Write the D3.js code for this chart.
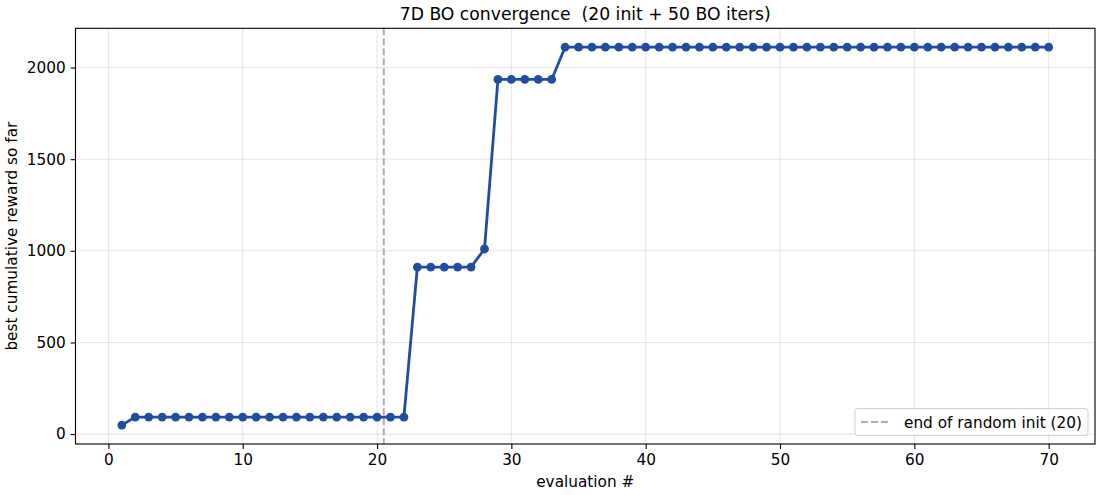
<!DOCTYPE html>
<html>
<head>
<meta charset="utf-8">
<script src="https://cdn.jsdelivr.net/npm/d3@7"></script>
<style>
  body { margin: 0; background: #fff; }
  svg { font-family: "DejaVu Sans", sans-serif; }
</style>
</head>
<body>
<div class="chart"></div>
<script>
// evaluation index and best reward found so far
const evals = [1,2,3,4,5,6,7,8,9,10,11,12,13,14,15,16,17,18,19,20,
  21,22,23,24,25,26,27,28,29,30,31,32,33,34,35,36,37,38,39,40,
  41,42,43,44,45,46,47,48,49,50,51,52,53,54,55,56,57,58,59,60,
  61,62,63,64,65,66,67,68,69,70]
const bestReward = [49,93,93,93,93,93,93,93,93,93,93,93,93,93,93,93,93,93,93,93,
  93,93,911,911,911,911,911,1010,1935,1935,1935,1935,1935,2111,2111,2111,2111,2111,2111,2111,
  2111,2111,2111,2111,2111,2111,2111,2111,2111,2111,2111,2111,2111,2111,2111,2111,2111,2111,2111,2111,
  2111,2111,2111,2111,2111,2111,2111,2111,2111,2111]
const xTicks = [0, 10, 20, 30, 40, 50, 60, 70]
const yTicks = [0, 500, 1000, 1500, 2000]
const initEnd = 20.5
const legendLabel = 'end of random init (20)'

const W = 1100, H = 495
const margin = { top: 28.3, right: 5, bottom: 51, left: 75.5 }
const width = W - margin.left - margin.right
const height = H - margin.top - margin.bottom
const blue = '#1f4e9f'
const fs = 15.3

const svg = d3.select('.chart').append('svg')
  .attr('width', W).attr('height', H)

const g = svg.append('g')
  .attr('transform', `translate(${margin.left},${margin.top})`)

// matplotlib style 5% margins
const xPad = (d3.max(evals) - d3.min(evals)) * 0.05
const yPad = (d3.max(bestReward) - d3.min(bestReward)) * 0.05
const x = d3.scaleLinear()
  .domain([d3.min(evals) - xPad, d3.max(evals) + xPad])
  .range([0, width])
const y = d3.scaleLinear()
  .domain([d3.min(bestReward) - yPad, d3.max(bestReward) + yPad])
  .range([height, 0])

// grid
g.append('g').selectAll('line').data(xTicks).enter().append('line')
  .attr('x1', d => x(d)).attr('x2', d => x(d))
  .attr('y1', 0).attr('y2', height)
  .attr('stroke', '#b0b0b0').attr('stroke-opacity', 0.3).attr('stroke-width', 1.1)
g.append('g').selectAll('line').data(yTicks).enter().append('line')
  .attr('y1', d => y(d)).attr('y2', d => y(d))
  .attr('x1', 0).attr('x2', width)
  .attr('stroke', '#b0b0b0').attr('stroke-opacity', 0.3).attr('stroke-width', 1.1)

// end of random init marker
g.append('line')
  .attr('x1', x(initEnd)).attr('x2', x(initEnd))
  .attr('y1', 0).attr('y2', height)
  .attr('stroke', '#a0a0a0').attr('stroke-opacity', 0.85)
  .attr('stroke-width', 2).attr('stroke-dasharray', '7,3')

const pts = evals.map((e, i) => ({ e: e, r: bestReward[i] }))

g.append('path')
  .datum(pts)
  .attr('fill', 'none')
  .attr('stroke', blue)
  .attr('stroke-width', 2.8)
  .attr('stroke-linejoin', 'round')
  .attr('d', d3.line().x(d => x(d.e)).y(d => y(d.r)))

g.append('g').selectAll('circle').data(pts).enter().append('circle')
  .attr('cx', d => x(d.e)).attr('cy', d => y(d.r))
  .attr('r', 4.4).attr('fill', blue)

// axes
const xAxis = d3.axisBottom(x).tickValues(xTicks).tickFormat(d3.format('d'))
  .tickSizeInner(4.9).tickSizeOuter(0).tickPadding(4.9)
const yAxis = d3.axisLeft(y).tickValues(yTicks).tickFormat(d3.format('d'))
  .tickSizeInner(4.9).tickSizeOuter(0).tickPadding(4.9)

const gx = g.append('g').attr('transform', `translate(0,${height})`).call(xAxis)
const gy = g.append('g').call(yAxis)
;[gx, gy].forEach(a => {
  a.select('.domain').remove()
  a.selectAll('line').attr('stroke', '#000').attr('stroke-width', 1.1)
  a.selectAll('text').attr('font-size', fs).attr('fill', '#000')
    .attr('font-family', '"DejaVu Sans", sans-serif')
})

// frame
g.append('rect')
  .attr('width', width).attr('height', height)
  .attr('fill', 'none').attr('stroke', '#000').attr('stroke-width', 1.1)

// labels
svg.append('text')
  .attr('x', margin.left + width / 2).attr('y', 19.5)
  .attr('text-anchor', 'middle').attr('font-size', 17.2)
  .style('white-space', 'pre')
  .text('7D BO convergence  (20 init + 50 BO iters)')

svg.append('text')
  .attr('x', margin.left + width / 2).attr('y', 487)
  .attr('text-anchor', 'middle').attr('font-size', fs)
  .text('evaluation #')

svg.append('text')
  .attr('transform', `translate(17,${margin.top + height / 2}) rotate(-90)`)
  .attr('text-anchor', 'middle').attr('font-size', fs)
  .text('best cumulative reward so far')

// legend
const lg = g.append('g').attr('transform', `translate(${width - 240},${height - 35.5})`)
lg.append('rect')
  .attr('width', 233).attr('height', 27).attr('rx', 3)
  .attr('fill', '#fff').attr('fill-opacity', 0.8)
  .attr('stroke', '#d0d0d0').attr('stroke-width', 1)
lg.append('line')
  .attr('x1', 6).attr('x2', 34).attr('y1', 13.5).attr('y2', 13.5)
  .attr('stroke', '#a0a0a0').attr('stroke-opacity', 0.85)
  .attr('stroke-width', 2).attr('stroke-dasharray', '7,3')
lg.append('text')
  .attr('x', 49).attr('y', 19).attr('font-size', fs)
  .text(legendLabel)
</script>
</body>
</html>
